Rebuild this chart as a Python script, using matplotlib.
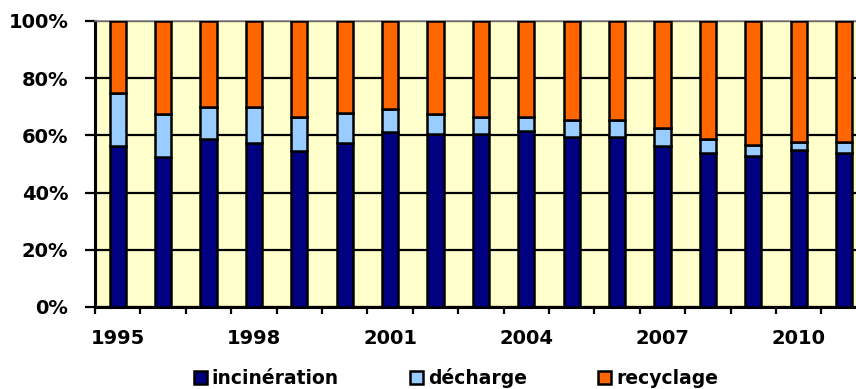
import numpy as np
import matplotlib.pyplot as plt
from matplotlib.patches import Patch

years = list(range(1995, 2012))
# cumulative tops (%)
incineration = [56.4, 52.6, 58.6, 57.5, 54.5, 57.5, 61.3, 60.4, 60.4, 61.5, 59.6, 59.6, 56.4, 53.7, 52.8, 54.9, 54.0]
decharge_top = [74.9, 67.4, 70.0, 70.0, 66.3, 67.9, 69.1, 67.4, 66.3, 66.3, 65.4, 65.4, 62.5, 58.6, 56.5, 57.6, 57.6]
decharge = [d - i for d, i in zip(decharge_top, incineration)]
recyclage = [100 - d for d in decharge_top]
year_labels = ["1995", "1998", "2001", "2004", "2007", "2010"]

c_inc = "#000080"
c_dec = "#99CCFF"
c_rec = "#FF6600"
bg = "#FFFFCC"

plt.rcParams['font.family'] = ['DejaVu Sans']
plt.rcParams['font.weight'] = 'bold'

fig = plt.figure(figsize=(8.56, 3.89), dpi=100)
ax = fig.add_axes([95/856, 1-307/389, 17*45.4/856, 286/389])
ax.set_facecolor(bg)

x = np.arange(len(years))
w = 0.36
kw = dict(width=w, edgecolor="black", linewidth=1.8, zorder=3)
ax.bar(x, incineration, color=c_inc, **kw)
ax.bar(x, decharge, bottom=incineration, color=c_dec, **kw)
ax.bar(x, recyclage, bottom=decharge_top, color=c_rec, **kw)

ax.set_xlim(-0.5, len(years) - 0.5)
ax.set_ylim(0, 100)
ax.set_yticks(range(0, 101, 20))
ax.set_yticklabels([f"{v}%" for v in range(0, 101, 20)], fontsize=14, fontweight="bold")
ax.yaxis.grid(True, color="black", linewidth=1.6, zorder=1)
ax.set_axisbelow(True)

ax.set_xticks(np.arange(-0.5, len(years), 1), minor=False)
ax.set_xticklabels([])
lab_pos = [years.index(int(y)) for y in year_labels]
ax.set_xticks(lab_pos, minor=True)
ax.set_xticklabels(year_labels, minor=True, fontsize=14, fontweight="bold")
ax.tick_params(axis="x", which="minor", length=0, pad=16)
ax.tick_params(axis="x", which="major", length=5, width=1.6, direction="out")
ax.tick_params(axis="y", length=7.2, width=1.6, pad=12)

for s in ["left", "bottom"]:
    ax.spines[s].set_linewidth(2.2)
    ax.spines[s].set_color("black")
ax.spines["top"].set_color("#808080")
ax.spines["top"].set_linewidth(1.2)
ax.spines["right"].set_visible(False)

handles = [Patch(facecolor=c_inc, edgecolor="black", linewidth=1.8, label="incinération"),
           Patch(facecolor=c_dec, edgecolor="black", linewidth=1.8, label="décharge"),
           Patch(facecolor=c_rec, edgecolor="black", linewidth=1.8, label="recyclage")]
fig.legend(handles=handles, loc="center", bbox_to_anchor=(456/856, 1-378/389), ncol=3,
           frameon=False, prop={"size": 13.5, "weight": "bold"}, handlelength=0.7,
           handleheight=0.7, handletextpad=0.25, columnspacing=3.8)

fig.savefig("out.png", dpi=100)
